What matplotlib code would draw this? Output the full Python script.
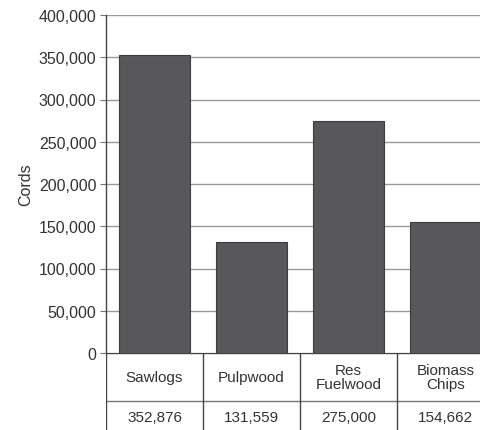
import matplotlib
matplotlib.use("Agg")
import matplotlib.pyplot as plt
from matplotlib.ticker import FuncFormatter, MultipleLocator

categories = ["Sawlogs", "Pulpwood", "Res\nFuelwood", "Biomass\nChips"]
cords = [352876, 131559, 275000, 154662]
y_max = 400000
y_step = 50000

plt.rcParams["font.family"] = ["Liberation Sans", "DejaVu Sans"]

W, H = 480, 431
fig = plt.figure(figsize=(W / 100, H / 100), dpi=100)

# main plot area (extends past the right edge of the canvas)
left, right, top, zero = 106, 494, 16, 354
ax = fig.add_axes([left / W, (H - zero) / H, (right - left) / W, (zero - top) / H])

x = list(range(len(categories)))
ax.bar(x, cords, width=0.73, color="#58585a", edgecolor="#3c3c3c", linewidth=0.8, zorder=3)

ax.set_xlim(-0.5, len(categories) - 0.5)
ax.set_ylim(0, y_max)
ax.yaxis.set_major_locator(MultipleLocator(y_step))
ax.yaxis.set_major_formatter(FuncFormatter(lambda v, p: f"{int(v):,}"))
ax.grid(axis="y", color="#9a9a9a", linewidth=1.0, zorder=0)
ax.set_xticks([])
ax.tick_params(axis="y", direction="out", length=4, color="#777777",
               labelsize=11.5, labelcolor="#333333", pad=3)
for s in ["top", "right", "bottom"]:
    ax.spines[s].set_visible(False)
ax.spines["left"].set_color("#444444")
ax.spines["left"].set_linewidth(1.0)
ax.set_ylabel("Cords", fontsize=11.5, color="#333333", labelpad=4)

# data table beneath the bars
tbottom = 436
tax = fig.add_axes([left / W, (H - tbottom) / H, (right - left) / W, (tbottom - zero) / H])
tax.set_xlim(-0.5, len(categories) - 0.5)
tax.set_ylim(0, 82)
tax.axis("off")
mid = 82 - 48  # boundary between the name row and the value row
line_kw = dict(color="#444444", linewidth=1.0)
tax.plot([-0.5, len(categories) - 0.5], [82, 82], **line_kw)
tax.plot([-0.5, len(categories) - 0.5], [mid, mid], color="#777777", linewidth=1.0)
for i in range(len(categories) + 1):
    tax.plot([i - 0.5, i - 0.5], [0, 82], **line_kw)
for i, (name, val) in enumerate(zip(categories, cords)):
    tax.text(i, (82 + mid) / 2, name, ha="center", va="center", fontsize=11,
             color="#333333", linespacing=1.0)
    tax.text(i, mid - 16, f"{val:,}", ha="center", va="center", fontsize=11,
             color="#333333")

fig.savefig("out.png", dpi=100)
